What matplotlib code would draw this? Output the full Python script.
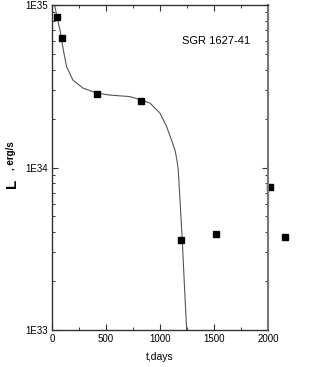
import matplotlib
matplotlib.use("Agg")
import matplotlib.pyplot as plt
from matplotlib.ticker import LogLocator, FixedLocator, NullFormatter, FixedFormatter, MultipleLocator

plt.rcParams['font.family'] = ['Liberation Sans', 'DejaVu Sans']

# observed points
t_obs = [46, 93, 417, 824, 1194, 1519, 2017, 2157]
L_obs = [8.4e34, 6.3e34, 2.83e34, 2.57e34, 3.58e33, 3.9e33, 7.6e33, 3.73e33]

# model curve
t_fit = [25, 46, 74, 105, 136, 194, 287, 417, 537, 722, 831, 907, 1000, 1062, 1108,
         1139, 1157, 1169, 1176, 1194, 1206, 1225, 1247, 1255]
L_fit = [1.0e35, 8.43e34, 7.02e34, 5.28e34, 4.15e34, 3.45e34, 3.08e34, 2.87e34, 2.79e34,
         2.73e34, 2.60e34, 2.49e34, 2.16e34, 1.78e34, 1.47e34, 1.28e34, 1.11e34, 9.66e33,
         8.04e33, 4.96e33, 3.58e33, 1.95e33, 1.0e33, 0.8e33]

y_ticks = [1e33, 1e34, 1e35]
y_labels = ["1E33", "1E34", "1E35"]

fig = plt.figure(figsize=(3.16, 3.67), dpi=100)
ax = fig.add_axes([52/316, 1-330/367, 216/316, 325/367])

ax.plot(t_fit, L_fit, color='#555555', lw=0.8)
ax.plot(t_obs, L_obs, 's', color='black', ms=4.5, clip_on=False)

ax.set_yscale('log')
ax.set_xlim(0, 2000)
ax.set_ylim(1e33, 1e35)
ax.xaxis.set_major_locator(MultipleLocator(500))
ax.xaxis.set_minor_locator(MultipleLocator(250))
ax.yaxis.set_major_locator(FixedLocator(y_ticks))
ax.yaxis.set_major_formatter(FixedFormatter(y_labels))
ax.yaxis.set_minor_locator(LogLocator(base=10, subs=range(2, 10)))
ax.yaxis.set_minor_formatter(NullFormatter())

ax.tick_params(which='both', direction='in', top=True, right=True, labelsize=7, pad=3, color='#333333')
ax.tick_params(which='major', length=4, width=0.8)
ax.tick_params(which='minor', length=2.5, width=0.7)
for s in ax.spines.values():
    s.set_color('#333333')
    s.set_linewidth(1.0)
ax.spines['right'].set_color('#777777')
ax.spines['right'].set_linewidth(1.5)

ax.text(0.76, 0.89, "SGR 1627-41", transform=ax.transAxes, ha='center', va='center', fontsize=8)
ax.set_xlabel("t,days", fontsize=7.5, labelpad=6)

fig.text(12/316, 1-183/367, "L", rotation=90, fontsize=11, fontweight='bold', ha='center', va='center')
fig.text(11/316, 1-156/367, ", erg/s", rotation=90, fontsize=7, fontweight='bold', ha='center', va='center')

fig.savefig("out.png", dpi=100)
